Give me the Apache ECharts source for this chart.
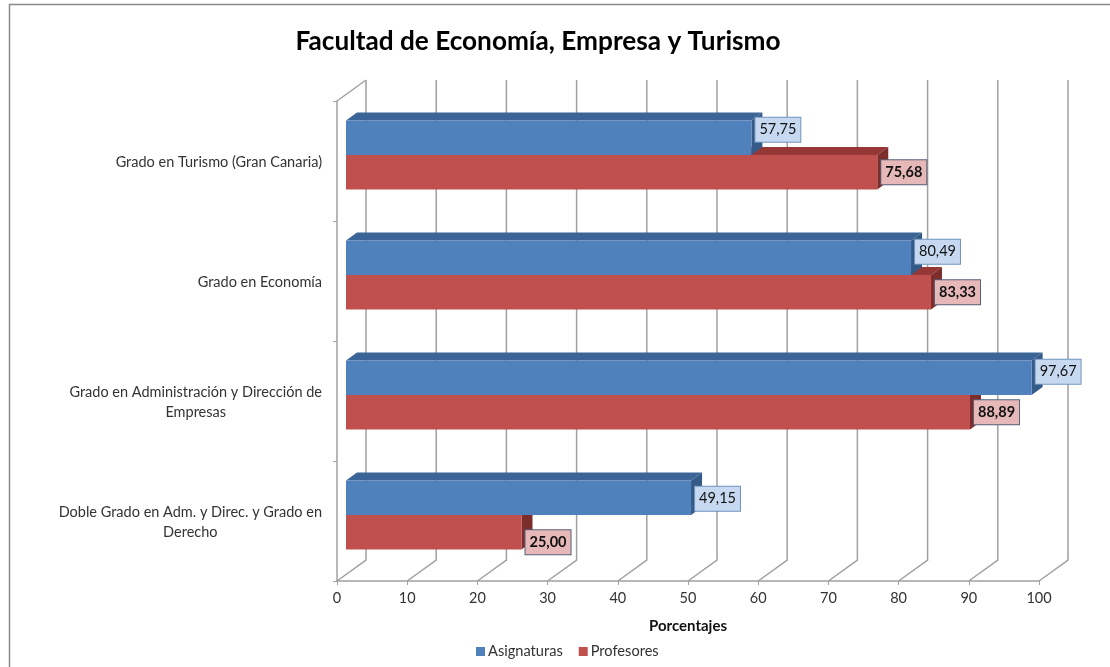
<!DOCTYPE html>
<html>
<head>
<meta charset="utf-8">
<title>Facultad de Economía, Empresa y Turismo</title>
<script src="https://cdn.jsdelivr.net/npm/echarts@6/dist/echarts.min.js"></script>
<style>
  html, body { margin: 0; padding: 0; background: #fff; }
  #main { width: 1110px; height: 667px; }
</style>
</head>
<body>
<div id="main"></div>
<script>
// datos
const categories = [
  'Grado en Turismo (Gran Canaria)',
  'Grado en Economía',
  'Grado en Administración y Dirección de\nEmpresas',
  'Doble Grado en Adm. y Direc. y Grado en\nDerecho'
];
const asignaturas = [57.75, 80.49, 97.67, 49.15];
const profesores = [75.68, 83.33, 88.89, 25.00];
const xTicks = [0, 10, 20, 30, 40, 50, 60, 70, 80, 90, 100];

// ajuste vertical de cada etiqueta respecto al centro de la barra
const asigLabelDy = [-8, -6, -6, 1];
const profLabelDy = [0, 0, 0, 10];

const FONT = 'Lato, "Open Sans", sans-serif';
// profundidad del pseudo 3D (pixeles)
const WALL_DX = 29, WALL_DY = -21;
const BAR_DX = 9, BAR_DY = -6;
const DEPTH_DX = 11, DEPTH_DY = -8;
const BAR_H = 34.5;

function fmt(v) {
  return v.toFixed(2).replace('.', ',');
}

function renderWall(params, api) {
  const p = api.coord([api.value(0), categories[categories.length - 1]]);
  const size = api.size([0, 1]);
  const bottom = p[1] + size[1] / 2;
  const top = bottom - size[1] * categories.length;
  const x = p[0];
  const children = [{
    type: 'polyline',
    shape: { points: [[x + WALL_DX, top + WALL_DY], [x + WALL_DX, bottom + WALL_DY], [x, bottom]] },
    style: { stroke: '#a0a0a0', lineWidth: 1.5, fill: 'none' }
  }];
  if (api.value(0) === 0) {
    children.push({
      type: 'line',
      shape: { x1: x, y1: top, x2: x + WALL_DX, y2: top + WALL_DY },
      style: { stroke: '#a0a0a0', lineWidth: 1.5 }
    });
  }
  return { type: 'group', children: children };
}

function makeBar(colors, yOffset, labelDy, labelFill, labelBorder, fontWeight) {
  return function (params, api) {
    const v = api.value(0);
    const idx = params.dataIndex;
    const start = api.coord([0, idx]);
    const end = api.coord([v, idx]);
    const x0 = start[0] + BAR_DX;
    const x1 = end[0] + BAR_DX;
    const y0 = start[1] + BAR_DY + yOffset;
    const y1 = y0 + BAR_H;
    return {
      type: 'group',
      children: [
        {
          type: 'polygon',
          shape: { points: [[x0, y0], [x0 + DEPTH_DX, y0 + DEPTH_DY], [x1 + DEPTH_DX, y0 + DEPTH_DY], [x1, y0]] },
          style: { fill: colors.top }
        },
        {
          type: 'polygon',
          shape: { points: [[x1, y0], [x1 + DEPTH_DX, y0 + DEPTH_DY], [x1 + DEPTH_DX, y1 + DEPTH_DY], [x1, y1]] },
          style: { fill: colors.side }
        },
        {
          type: 'rect',
          shape: { x: x0, y: y0, width: x1 - x0, height: BAR_H },
          style: { fill: colors.front }
        },
        {
          type: 'text',
          z2: 10,
          x: x1 + 4,
          y: (y0 + y1) / 2 + labelDy[idx],
          style: {
            text: fmt(v),
            font: fontWeight + ' 14.5px ' + FONT,
            fill: '#111',
            verticalAlign: 'middle',
            backgroundColor: labelFill,
            borderColor: labelBorder,
            borderWidth: 1,
            padding: [5, 4, 4, 4]
          }
        }
      ]
    };
  };
}

const chart = echarts.init(document.getElementById('main'));

chart.setOption({
  animation: false,
  backgroundColor: '#fff',
  title: {
    text: 'Facultad de Economía, Empresa y Turismo',
    left: 533,
    top: 24,
    textAlign: 'center',
    textStyle: { fontFamily: FONT, fontSize: 26.2, fontWeight: 'bold', color: '#000' }
  },
  legend: {
    left: 471,
    top: 639,
    itemWidth: 9,
    itemHeight: 9,
    itemGap: 16,
    icon: 'rect',
    textStyle: { fontFamily: FONT, fontSize: 14.6, color: '#333', padding: [0, 0, 0, -2] },
    data: ['Asignaturas', 'Profesores']
  },
  grid: { left: 337, right: 71, top: 101, bottom: 86 },
  xAxis: {
    type: 'value',
    min: 0,
    max: 100,
    interval: 10,
    name: 'Porcentajes',
    nameLocation: 'middle',
    nameGap: 38,
    nameTextStyle: { fontFamily: FONT, fontSize: 15, fontWeight: 'bold', color: '#111' },
    splitLine: { show: false },
    axisLine: { show: true, lineStyle: { color: '#a0a0a0', width: 1.5 } },
    axisTick: { show: true, length: 4, lineStyle: { color: '#a0a0a0' } },
    axisLabel: { fontFamily: FONT, fontSize: 14.5, color: '#333', margin: 10 }
  },
  yAxis: {
    type: 'category',
    inverse: true,
    data: categories,
    splitLine: { show: false },
    axisLine: { show: true, lineStyle: { color: '#a0a0a0', width: 1.5 } },
    axisTick: { show: true, length: 4, lineStyle: { color: '#a0a0a0' } },
    axisLabel: {
      margin: 15,
      lineHeight: 20,
      padding: [3, 0, 0, 0],
      formatter: function (value) {
        return value.split('\n').map(function (s) { return '{c|' + s + '}'; }).join('\n');
      },
      rich: {
        c: { align: 'center', fontFamily: FONT, fontSize: 14.5, lineHeight: 20, color: '#333' }
      }
    }
  },
  series: [
    {
      type: 'custom',
      name: 'pared',
      z: 1,
      silent: true,
      renderItem: renderWall,
      encode: { x: 0 },
      data: xTicks.map(function (t) { return [t]; })
    },
    {
      type: 'custom',
      name: 'Profesores',
      z: 2,
      itemStyle: { color: '#c0504d' },
      renderItem: makeBar({ front: '#c0504d', top: '#953735', side: '#7d2e2c' }, 0, profLabelDy, '#e6b9b8', '#5a5f78', 'bold'),
      encode: { x: 0, y: 1 },
      data: profesores.map(function (v, i) { return [v, i]; })
    },
    {
      type: 'custom',
      name: 'Asignaturas',
      z: 3,
      itemStyle: { color: '#4f81bd' },
      renderItem: makeBar({ front: '#4f81bd', top: '#3b6597', side: '#345a88' }, -BAR_H, asigLabelDy, '#c6d9f1', '#6f93bd', 'normal'),
      encode: { x: 0, y: 1 },
      data: asignaturas.map(function (v, i) { return [v, i]; })
    }
  ],
  graphic: [
    {
      type: 'polyline',
      silent: true,
      shape: { points: [[9.5, 667], [9.5, 4.5], [1110, 4.5]] },
      style: { stroke: '#8a8a8a', lineWidth: 1.5, fill: 'none' }
    }
  ]
});
</script>
</body>
</html>
